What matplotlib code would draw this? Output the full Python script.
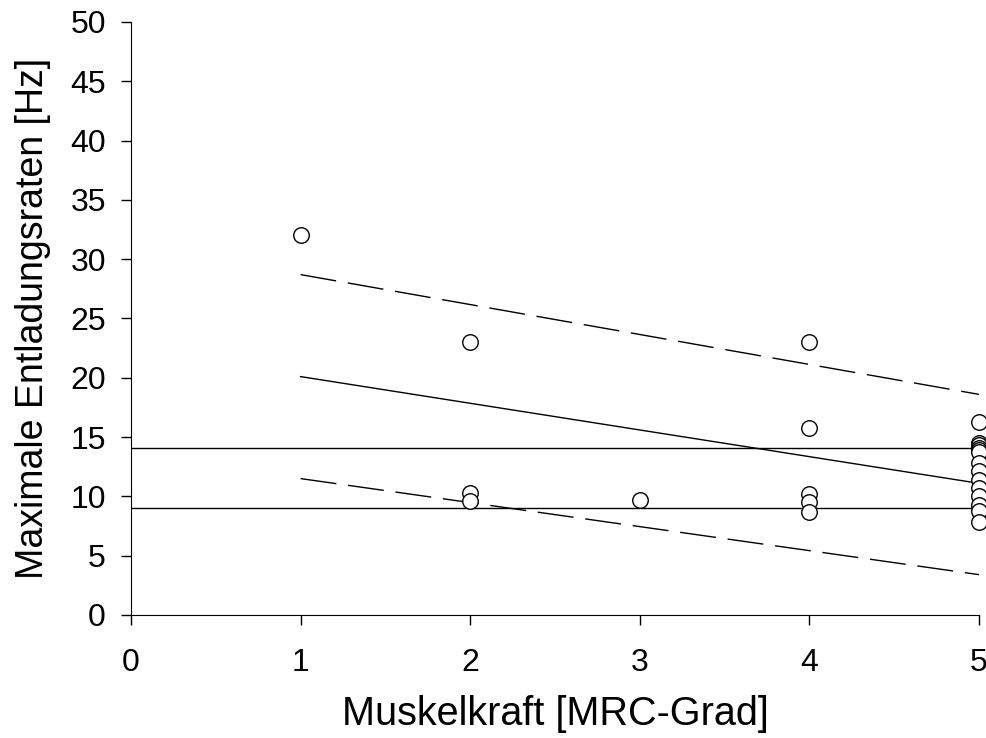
import numpy as np
import matplotlib
matplotlib.use('Agg')
import matplotlib.pyplot as plt

plt.rcParams['font.family'] = ['Liberation Sans', 'DejaVu Sans']

# data
mrc = [1, 2, 2, 2, 3, 4, 4, 4, 4, 4,
       5, 5, 5, 5, 5, 5, 5, 5, 5, 5, 5, 5, 5, 5]
rate = [32.0, 23.0, 10.3, 9.6, 9.7, 23.0, 15.8, 10.2, 9.5, 8.7,
        16.3, 14.5, 14.3, 14.1, 13.9, 13.7, 12.8, 12.1, 11.4, 10.7, 10.0, 9.3, 8.8, 7.8]

fit_x = [1, 5]
fit_y = [20.1, 11.1]
upper_y = [28.7, 18.6]
lower_y = [11.5, 3.4]
ref_levels = [14.1, 9.0]

xticks = [0, 1, 2, 3, 4, 5]
yticks = [0, 5, 10, 15, 20, 25, 30, 35, 40, 45, 50]

fig = plt.figure(figsize=(9.87, 7.38), dpi=100)
ax = fig.add_axes([0.1327, 0.1667, 0.8592, 0.8035])

for lv in ref_levels:
    ax.axhline(lv, color='black', lw=1.0)
ax.plot(fit_x, fit_y, color='black', lw=1.0)
ax.plot(fit_x, upper_y, color='black', lw=1.0, dashes=(26, 8.5))
ax.plot(fit_x, lower_y, color='black', lw=1.0, dashes=(26, 8.5))

ax.scatter(mrc, rate, s=125, facecolor='white', edgecolor='black',
           linewidth=1.0, zorder=3, clip_on=False)

ax.set_xlim(0, 5)
ax.set_ylim(0, 50)
ax.set_xticks(xticks)
ax.set_yticks(yticks)
ax.spines['top'].set_visible(False)
ax.spines['right'].set_visible(False)
ax.tick_params(axis='both', direction='out', length=7, width=1, labelsize=23)
ax.tick_params(axis='y', pad=11)
ax.tick_params(axis='x', pad=17)

ax.set_xlabel('Muskelkraft [MRC-Grad]', fontsize=28.5, labelpad=12)
ax.set_ylabel('Maximale Entladungsraten [Hz]', fontsize=27, labelpad=14)

fig.savefig('out.png', dpi=100)
